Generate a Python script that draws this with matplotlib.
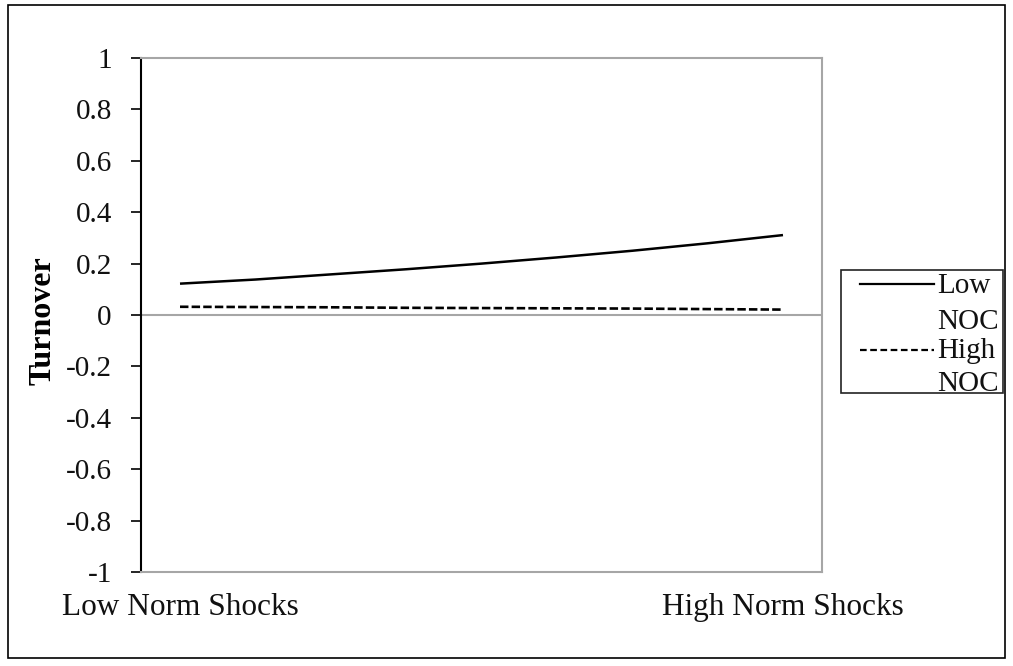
import matplotlib
matplotlib.use('Agg')
import matplotlib.pyplot as plt
from matplotlib.lines import Line2D
from matplotlib.patches import Rectangle

# norm shocks position (0 = low, 1 = high) and turnover
shock_pos = [0.0, 0.125, 0.25, 0.375, 0.5, 0.625, 0.75, 0.875, 1.0]
low_noc = [0.122, 0.138, 0.158, 0.178, 0.200, 0.224, 0.250, 0.279, 0.311]
high_noc = [0.032, 0.031, 0.030, 0.028, 0.027, 0.026, 0.025, 0.023, 0.021]

series_names = ['Low\nNOC', 'High\nNOC']
x_tick_pos = [0, 1]
x_tick_labels = ['Low Norm Shocks', 'High Norm Shocks']
y_ticks = [-1, -0.8, -0.6, -0.4, -0.2, 0, 0.2, 0.4, 0.6, 0.8, 1]
y_tick_labels = ['-1', '-0.8', '-0.6', '-0.4', '-0.2', '0', '0.2', '0.4', '0.6', '0.8', '1']

plt.rcParams['font.family'] = ['Liberation Serif', 'DejaVu Serif']
W, H = 1013, 666
fig = plt.figure(figsize=(W / 100, H / 100), dpi=100)
ax = fig.add_axes([141 / W, 1 - 572 / H, (822 - 141) / W, (572 - 58) / H])


def fx(px):
    return px / W


def fy(py):
    return 1 - py / H


gray = '#a6a6a6'
txt_color = '#111111'
ax.axhline(0, color=gray, lw=1.5, zorder=1)
solid, = ax.plot(shock_pos, low_noc, color='black', lw=1.8, solid_capstyle='butt', zorder=3)
dashed, = ax.plot(shock_pos, high_noc, color='black', lw=1.9, dashes=(3.2, 1.2), zorder=3)

ax.set_xlim(-0.0647, 1.0647)
ax.set_ylim(-1, 1)
ax.set_yticks(y_ticks)
ax.set_yticklabels(y_tick_labels, fontsize=21, color=txt_color)
ax.tick_params(axis='y', direction='out', length=7, width=1.2, color='black', pad=14)
ax.set_xticks([])
for pos, lab in zip(x_tick_pos, x_tick_labels):
    ax.text(pos, -1.14, lab, ha='center', va='center', fontsize=22.5, color=txt_color)

for side in ['top', 'right', 'bottom']:
    ax.spines[side].set_color(gray)
    ax.spines[side].set_linewidth(1.5)
ax.spines['left'].set_color('black')
ax.spines['left'].set_linewidth(1.5)

fig.text(fx(43), fy(321), 'Turnover', rotation=90, ha='center', va='center',
         fontsize=23, fontweight='bold', color='black')

# legend box, Excel style (handle on the first line of each wrapped label)
fig.patches.append(Rectangle((fx(841), fy(393)), fx(1003) - fx(841), fy(270) - fy(393),
                             transform=fig.transFigure, fill=False, ec='#222222', lw=1.2))
# (handle row, baseline of first line, baseline of second line) in pixels
rows = [(284, 293, 329), (350, 358, 391)]
for handle, name, (hr, b1, b2) in zip([solid, dashed], series_names, rows):
    style = dict(color='black', lw=1.6, transform=fig.transFigure)
    if handle is dashed:
        style['dashes'] = (3.0, 1.6)
    fig.lines.append(Line2D([fx(860), fx(934)], [fy(hr), fy(hr)], **style))
    first, second = name.split('\n')
    fig.text(fx(937), fy(b1), first, ha='left', va='baseline', fontsize=21, color=txt_color)
    fig.text(fx(937), fy(b2), second, ha='left', va='baseline', fontsize=21, color=txt_color)

# outer chart border
fig.patches.append(Rectangle((fx(8), fy(658)), fx(1005) - fx(8), fy(5) - fy(658),
                             transform=fig.transFigure, fill=False, ec='black', lw=1.2))

fig.savefig('out.png', dpi=100)
